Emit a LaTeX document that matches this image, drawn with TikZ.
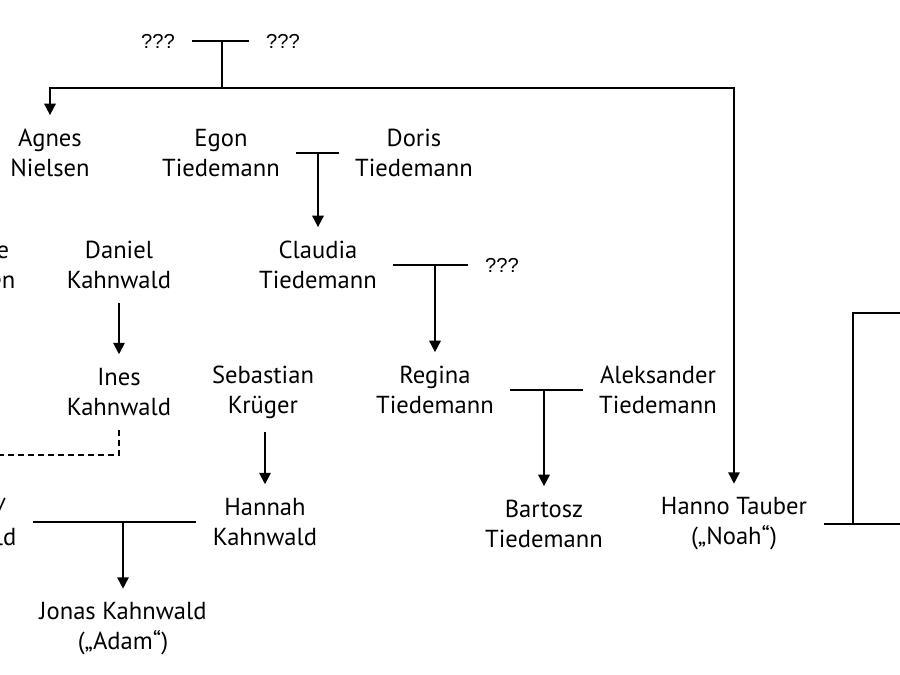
\documentclass[tikz,border=0pt]{standalone}
\usepackage{fontspec}
\setmainfont{PT Sans}
\newfontfamily\qfont{Liberation Sans}
\usetikzlibrary{arrows.meta,positioning,calc}
\tikzset{
  pers/.style={align=center, inner xsep=9pt, inner ysep=7.5pt,
    font=\fontsize{14}{17}\selectfont},
  unk/.style={inner xsep=9pt, inner ysep=3pt, font=\qfont\fontsize{11.5}{13}\selectfont},
  arr/.style={-{Triangle[width=6.5pt,length=6.5pt]}},
  adopt/.style={dash pattern=on 3.4pt off 2.3pt}
}

\begin{document}
\begin{tikzpicture}[x=0.02cm, y=-0.02cm, line width=1pt]
  \useasboundingbox (0,0) rectangle (900,675);

  % unknown parents at the top
  \node[unk] (q1) at (158,41) {???};
  \node[unk] (q2) at (283,41) {???};

  % first row
  \node[pers] (agnes)  at (50,153)  {Agnes\\Nielsen};
  \node[pers] (egon)   at (221,153) {Egon\\Tiedemann};
  \node[pers] (doris)  at (414,153) {Doris\\Tiedemann};

  % second row
  \node[pers, anchor=east] (tronte) at (32,265) {Tronte\\Nielsen};
  \node[pers] (daniel)  at (119,265) {Daniel\\Kahnwald};
  \node[pers] (claudia) at (318,265) {Claudia\\Tiedemann};
  \node[unk]  (q3)      at (502,265) {???};

  % third row
  \node[pers] (ines)   at (119,392) {Ines\\Kahnwald};
  \node[pers] (seb)    at (263,392) {Sebastian\\Kr\"uger};
  \node[pers] (regina) at (435,390) {Regina\\Tiedemann};
  \node[pers] (aleks)  at (658,390) {Aleksander\\Tiedemann};

  % fourth row
  \node[pers, anchor=east] (michael) at (33,522) {Mikkel Nielsen /\\Michael Kahnwald};
  \node[pers] (hannah)  at (265,522) {Hannah\\Kahnwald};
  \node[pers] (bartosz) at (544,524) {Bartosz\\Tiedemann};
  \node[pers] (hanno)   at (734,524) {Hanno Tauber\\(„Noah“)};

  % fifth row
  \node[pers] (jonas) at (123,629) {Jonas Kahnwald\\(„Adam“)};

  \coordinate (split) at (222,88);
  \coordinate (offR)  at (920,524);
  \coordinate (turn)  at (853,313);
  \coordinate (offT)  at (920,313);

  % marriages and children
  \draw (q1.east) -- (q2.west);
  \draw (q1.east -| split) -- (split);
  \draw[arr] (split) -| (agnes.north);
  \draw[arr] (split) -| (hanno.north);

  \draw (egon.east) -- (doris.west);
  \draw[arr] (egon.east -| claudia.north) -- (claudia.north);

  \draw[arr] (daniel.south) -- (ines.north);
  \draw[adopt] (ines.south) -- ++(0,25) -| (michael.north);

  \draw (claudia.east) -- (claudia.east -| q3.west);
  \draw[arr] (claudia.east -| regina.north) -- (regina.north);

  \draw[arr] (seb.south -| hannah.north) -- (hannah.north);

  \draw (regina.east) -- (aleks.west);
  \draw[arr] (regina.east -| bartosz.north) -- (bartosz.north);

  \draw (michael.east) -- (hannah.west);
  \draw[arr] (michael.east -| jonas.north) -- (jonas.north);

  \draw (hanno.east) -- (offR);
  \draw (hanno.east -| turn) -- (turn) -- (offT);
\end{tikzpicture}
\end{document}
